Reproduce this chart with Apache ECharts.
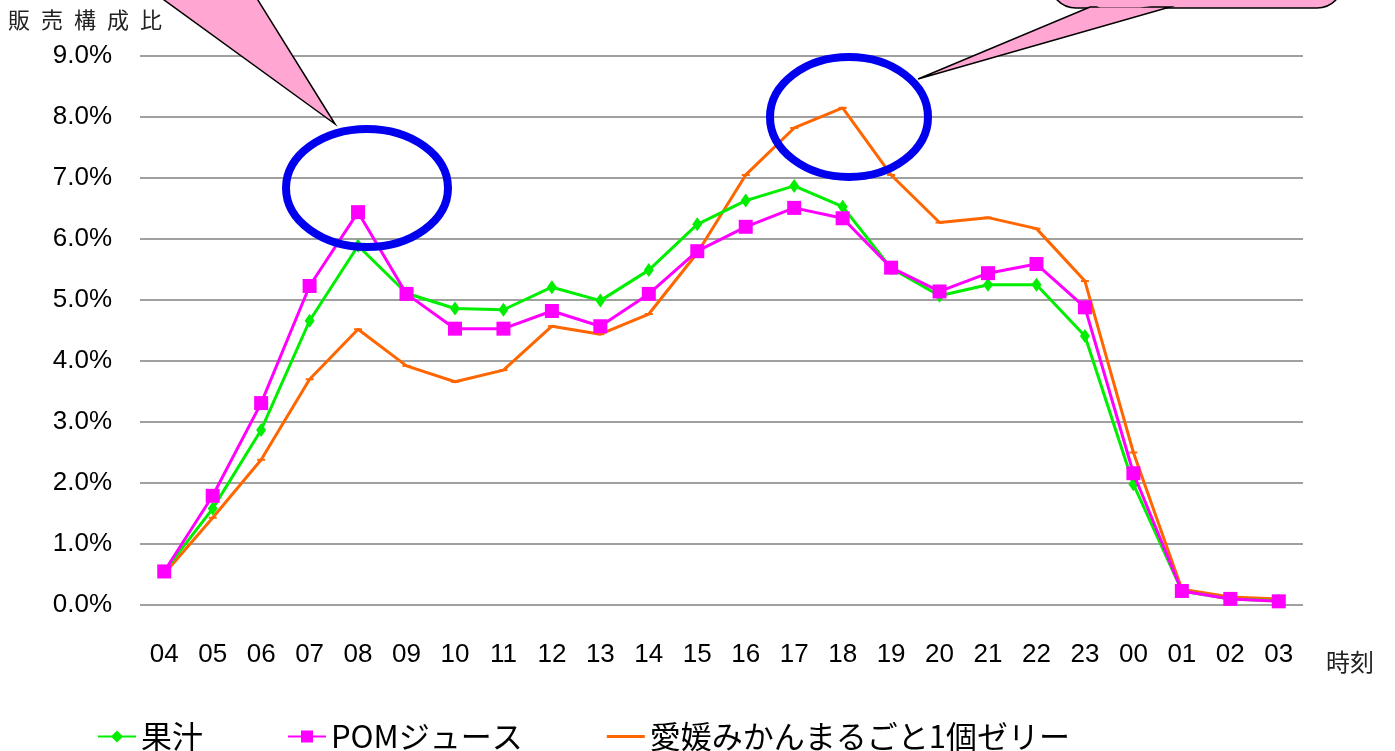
<!DOCTYPE html>
<html>
<head>
<meta charset="utf-8">
<script src="https://cdn.jsdelivr.net/npm/echarts@6/dist/echarts.min.js"></script>
<style>
  html, body { margin: 0; padding: 0; background: #fff; }
  #main { width: 1395px; height: 751px; }
</style>
</head>
<body>
<div id="main"></div>
<script>
// 時刻（04時〜翌03時）
var hours = ['04','05','06','07','08','09','10','11','12','13','14','15',
             '16','17','18','19','20','21','22','23','00','01','02','03'];

// 販売構成比（%）
var juice = [0.55, 1.58, 2.87, 4.66, 5.89, 5.11, 4.86, 4.84, 5.21, 4.99, 5.49, 6.24,
             6.63, 6.87, 6.53, 5.52, 5.07, 5.25, 5.25, 4.41, 1.98, 0.23, 0.10, 0.07];
var pom = [0.55, 1.79, 3.31, 5.23, 6.44, 5.10, 4.53, 4.53, 4.82, 4.57, 5.10, 5.80,
           6.20, 6.51, 6.34, 5.53, 5.14, 5.44, 5.59, 4.88, 2.16, 0.23, 0.10, 0.06];
var jelly = [0.51, 1.43, 2.38, 3.70, 4.52, 3.92, 3.66, 3.85, 4.57, 4.44, 4.77, 5.77,
             7.05, 7.82, 8.15, 7.05, 6.27, 6.35, 6.17, 5.31, 2.50, 0.26, 0.13, 0.10];

var seriesNames = ['果汁', 'POMジュース', '愛媛みかんまるごと1個ゼリー'];

var chart = echarts.init(document.getElementById('main'));

var font = '"Liberation Sans", Arial, sans-serif';
var jpFont = '"Noto Sans CJK JP", sans-serif';

chart.setOption({
  animation: false,
  backgroundColor: '#fff',
  grid: { left: 140, right: 92, top: 56, bottom: 146 },
  legend: {
    data: [
      { name: seriesNames[0] },
      { name: seriesNames[1] },
      { name: seriesNames[2], icon: 'path://M0,0H40V3H0Z' }   // 凡例はダッシュ無しの線だけ
    ],
    left: 92,
    top: 716,
    itemWidth: 38,
    itemHeight: 15,
    itemGap: 84,
    textStyle: { fontSize: 31, color: '#000', fontFamily: jpFont }
  },
  xAxis: {
    type: 'category',
    data: hours,
    axisLine: { show: false },
    axisTick: { show: false },
    axisLabel: { fontSize: 26, color: '#000', fontFamily: font, margin: 37 }
  },
  yAxis: {
    type: 'value',
    min: 0,
    max: 9,
    interval: 1,
    axisLine: { show: false },
    axisTick: { show: false },
    splitLine: { lineStyle: { color: '#a0a0a0', width: 2 } },
    axisLabel: {
      fontSize: 26, color: '#000', fontFamily: font, margin: 28,
      padding: [5, 0, 0, 0],
      formatter: function (v) { return v.toFixed(1) + '%'; }
    }
  },
  series: [
    {
      name: seriesNames[0], type: 'line', data: juice,
      symbol: 'diamond', symbolSize: [10, 14], showAllSymbol: true,
      itemStyle: { color: '#00ee00' },
      lineStyle: { color: '#00ee00', width: 3 }, z: 3
    },
    {
      name: seriesNames[1], type: 'line', data: pom,
      symbol: 'rect', symbolSize: 14, showAllSymbol: true,
      itemStyle: { color: '#ff00ff' },
      lineStyle: { color: '#ff00ff', width: 3 }, z: 4
    },
    {
      name: seriesNames[2], type: 'line', data: jelly,
      symbol: 'rect', symbolSize: [8, 2], showAllSymbol: true,
      itemStyle: { color: '#ff6600' },
      lineStyle: { color: '#ff6600', width: 3 }, z: 2
    }
  ],
  graphic: [
    // 軸タイトル
    {
      type: 'text', left: 8, top: 9, z: 10,
      style: { text: '販\u2002売\u2002構\u2002成\u2002比', fontSize: 22, fill: '#222', fontFamily: jpFont }
    },
    {
      type: 'text', left: 1326, top: 650, z: 10,
      style: { text: '時刻', fontSize: 24, fill: '#222', fontFamily: jpFont }
    },
    // 吹き出し（左）
    {
      type: 'polygon', z: 20,
      shape: { points: [[160, -3], [256, -3], [335, 124]] },
      style: { fill: '#ffa6d2', stroke: '#000', lineWidth: 1.5 }
    },
    // 吹き出し（右）
    {
      type: 'rect', z: 20,
      shape: { x: 1050, y: -62, width: 293, height: 70, r: 26 },
      style: { fill: '#ffa6d2', stroke: '#000', lineWidth: 1.5 }
    },
    {
      type: 'polygon', z: 21,
      shape: { points: [[1090, 7], [1170, 7], [918, 79]] },
      style: { fill: '#ffa6d2', stroke: '#000', lineWidth: 1.5 }
    },
    {
      type: 'polygon', z: 22,
      shape: { points: [[1092, 4], [1166, 4], [1140, 7.5], [1100, 7.5]] },
      style: { fill: '#ffa6d2' }
    },
    // 青い楕円
    {
      type: 'ellipse', z: 25,
      shape: { cx: 367, cy: 188, rx: 81, ry: 59 },
      style: { fill: 'none', stroke: '#0000ee', lineWidth: 8 }
    },
    {
      type: 'ellipse', z: 25,
      shape: { cx: 849, cy: 117, rx: 79, ry: 60 },
      style: { fill: 'none', stroke: '#0000ee', lineWidth: 8 }
    }
  ]
});
</script>
</body>
</html>
